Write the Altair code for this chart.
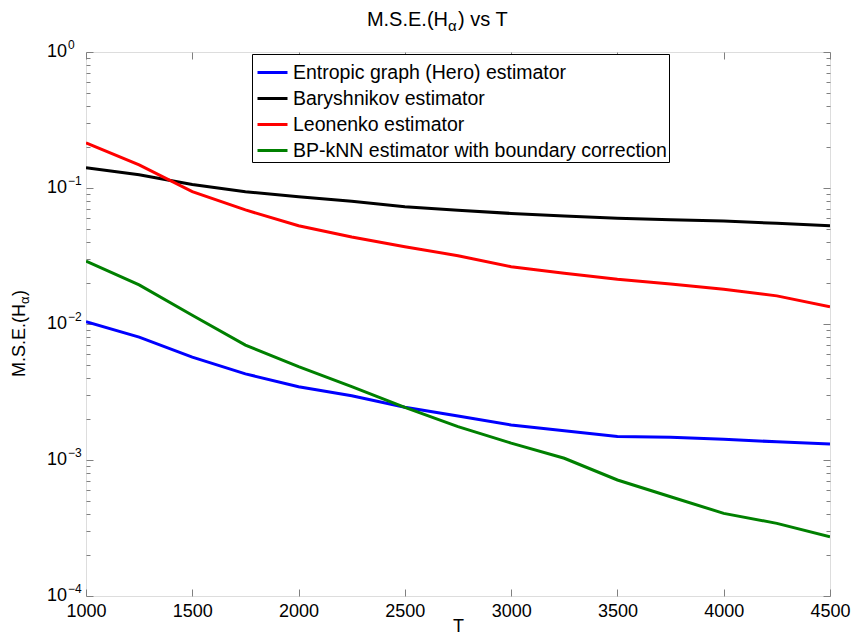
import altair as alt
import pandas as pd

# Sample sizes T and mean squared error of each entropy estimator
T = [1000, 1250, 1500, 1750, 2000, 2250, 2500, 2750, 3000, 3250, 3500, 3750, 4000, 4250, 4500]
hero = [0.0104, 0.0080, 0.0057, 0.0043, 0.00346, 0.00297, 0.00244, 0.00211, 0.00181,
        0.00164, 0.00149, 0.00147, 0.00142, 0.00136, 0.00131]
baryshnikov = [0.141, 0.125, 0.106, 0.094, 0.0863, 0.080, 0.0729, 0.0685, 0.065,
               0.0623, 0.0598, 0.0585, 0.0572, 0.055, 0.0528]
leonenko = [0.215, 0.148, 0.094, 0.069, 0.0528, 0.0436, 0.037, 0.0318, 0.0264,
            0.0236, 0.0213, 0.0197, 0.018, 0.0161, 0.0134]
bpknn = [0.029, 0.0194, 0.0116, 0.0070, 0.00486, 0.00346, 0.00244, 0.00176, 0.00133,
         0.00103, 0.000713, 0.000537, 0.000405, 0.000342, 0.000273]

series_names = ["Entropic graph (Hero) estimator", "Baryshnikov estimator",
                "Leonenko estimator", "BP-kNN estimator with boundary correction"]
series_colors = ["#0000ff", "#000000", "#ff0000", "#008000"]

x_ticks = [1000, 1500, 2000, 2500, 3000, 3500, 4000, 4500]
decades = [1.0, 0.1, 0.01, 0.001, 0.0001]
decade_exps = ["0", "\u22121", "\u22122", "\u22123", "\u22124"]
minor_ticks = [k * 10.0 ** e for e in range(-4, 0) for k in range(1, 10)] + [1.0]

rows = []
for name, vals in zip(series_names, [hero, baryshnikov, leonenko, bpknn]):
    for t, v in zip(T, vals):
        rows.append({"T": t, "mse": v, "estimator": name})
df = pd.DataFrame(rows)

W, H = 744, 544
FONT = "Liberation Sans"
AX = "#808080"

x_scale = alt.Scale(domain=[1000, 4500], nice=False)
y_scale = alt.Scale(type="log", domain=[1e-4, 1], nice=False)

major_test = "abs(log(datum.value) / LN10 - round(log(datum.value) / LN10)) < 0.001"
y_tick_size = {"condition": {"test": major_test, "value": 7}, "value": 4}

lines = alt.Chart(df).mark_line(strokeWidth=3, clip=True).encode(
    x=alt.X("T:Q", scale=x_scale,
            axis=alt.Axis(orient="bottom", values=x_ticks, format="d", ticks=False,
                          domain=False, grid=False, labelFontSize=18, labelFont=FONT,
                          labelColor="black", labelPadding=6, labelFlush=False,
                          labelOverlap=False, title="T", titleFontSize=18, titleFont=FONT,
                          titleFontWeight="normal", titleColor="black",
                          titleBaseline="alphabetic", titleY=35)),
    y=alt.Y("mse:Q", scale=y_scale, axis=None),
    color=alt.Color("estimator:N",
                    scale=alt.Scale(domain=series_names, range=series_colors),
                    legend=alt.Legend(title=None, orient="none", legendX=166, legendY=2,
                                      direction="vertical", strokeColor="black",
                                      fillColor="white", padding=2, symbolOffset=2,
                                      symbolType="stroke",
                                      symbolStrokeWidth=3, symbolSize=900,
                                      labelFontSize=19.5, labelFont=FONT, labelColor="black",
                                      labelLimit=0, rowPadding=0, labelOffset=4)),
    order=alt.Order("T:Q"),
)

tick_common = dict(labels=False, domain=False, grid=False, title=None,
                   tickColor=AX, tickWidth=1)

# Inward-pointing ticks: axes flipped to the opposite side of the frame
ticks_a = alt.Chart(df).mark_point(opacity=0).encode(
    x=alt.X("T:Q", scale=x_scale,
            axis=alt.Axis(orient="top", offset=-H, values=x_ticks, tickSize=7, **tick_common)),
    y=alt.Y("mse:Q", scale=y_scale,
            axis=alt.Axis(orient="right", offset=-W, values=minor_ticks,
                          tickSize=y_tick_size, **tick_common)),
)
ticks_b = alt.Chart(df).mark_point(opacity=0).encode(
    x=alt.X("T:Q", scale=x_scale,
            axis=alt.Axis(orient="bottom", offset=-H, values=x_ticks, tickSize=7, **tick_common)),
    y=alt.Y("mse:Q", scale=y_scale,
            axis=alt.Axis(orient="left", offset=-W, values=minor_ticks,
                          tickSize=y_tick_size, **tick_common)),
)

# Power-of-ten labels on the y axis
dec_df = pd.DataFrame({"v": decades, "base": ["10"] * len(decades), "exp": decade_exps})
y_base = alt.Chart(dec_df).mark_text(align="right", baseline="middle", fontSize=18,
                                      font=FONT, color="black").encode(
    x=alt.value(-19), y=alt.Y("v:Q", scale=y_scale, axis=None), text="base:N")
y_exp = alt.Chart(dec_df).mark_text(align="left", baseline="middle", fontSize=12,
                                     font=FONT, color="black", dy=-7).encode(
    x=alt.value(-18), y=alt.Y("v:Q", scale=y_scale, axis=None), text="exp:N")

# Title and y-axis title with subscript alpha
txt = pd.DataFrame({"a": ["M.S.E.(H"], "b": ["\u03b1"], "c": [") vs T"], "d": [")"]})
t1 = alt.Chart(txt).mark_text(align="right", baseline="middle", fontSize=20, font=FONT,
                              color="black").encode(x=alt.value(362), y=alt.value(-32), text="a:N")
t2 = alt.Chart(txt).mark_text(align="left", baseline="middle", fontSize=15, font=FONT,
                              color="black", dy=6).encode(x=alt.value(362), y=alt.value(-32), text="b:N")
t3 = alt.Chart(txt).mark_text(align="left", baseline="middle", fontSize=20, font=FONT,
                              color="black").encode(x=alt.value(372), y=alt.value(-32), text="c:N")

yt1 = alt.Chart(txt).mark_text(align="right", baseline="middle", fontSize=18, font=FONT,
                               color="black", angle=270).encode(
    x=alt.value(-66), y=alt.value(252), text="a:N")
yt2 = alt.Chart(txt).mark_text(align="left", baseline="middle", fontSize=13, font=FONT,
                               color="black", angle=270).encode(
    x=alt.value(-61), y=alt.value(252), text="b:N")
yt3 = alt.Chart(txt).mark_text(align="left", baseline="middle", fontSize=18, font=FONT,
                               color="black", angle=270).encode(
    x=alt.value(-66), y=alt.value(244), text="d:N")

chart = alt.layer(
    lines, ticks_a, ticks_b, y_base, y_exp, t1, t2, t3, yt1, yt2, yt3
).resolve_axis(x="independent", y="independent").properties(
    width=W, height=H,
    autosize=alt.AutoSizeParams(type="none"),
    padding={"left": 86, "top": 52, "right": 22, "bottom": 40},
).configure_view(stroke=AX, strokeWidth=1).configure(background="white")

chart.save("out.html", embed_options={"renderer": "svg", "actions": False})
